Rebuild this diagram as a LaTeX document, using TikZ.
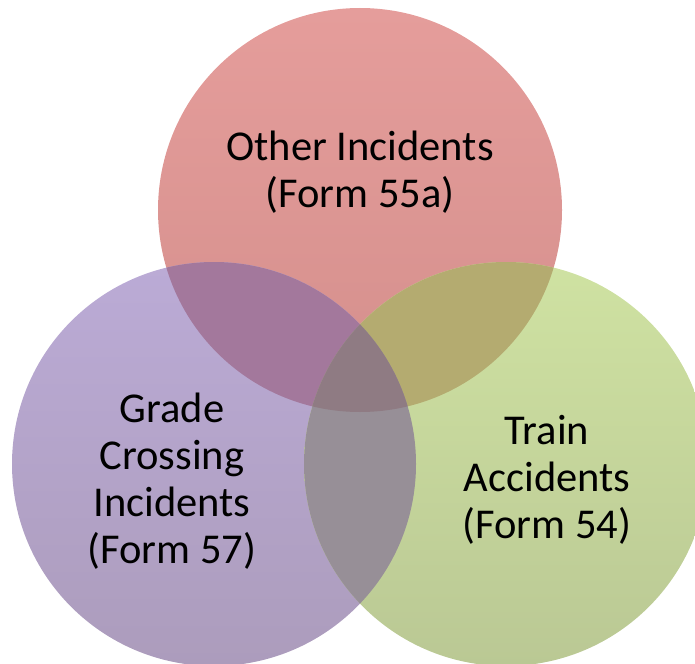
\documentclass[tikz,border=0pt]{standalone}
\usepackage{fontspec}
\setmainfont{Carlito}
\usepackage{tikz}
\usetikzlibrary{positioning}

\definecolor{redtop}{HTML}{E59D9B}
\definecolor{redbot}{HTML}{D48F8C}
\definecolor{purptop}{HTML}{BBABD6}
\definecolor{purpbot}{HTML}{AC9CBC}
\definecolor{greentop}{HTML}{CFE2A2}
\definecolor{greenbot}{HTML}{BAC894}
\definecolor{redpurp}{HTML}{A3789C}
\definecolor{redgreen}{HTML}{B4AB70}
\definecolor{purpgreen}{HTML}{978F97}
\definecolor{allthree}{HTML}{8F7B83}

\begin{document}
\begin{tikzpicture}[
x=1pt, y=-1pt,
mycircle/.style={circle,
  inner sep=0pt,
  minimum size=404pt,
},
mylabel/.style={
  align=center,
  inner sep=0pt,
  font=\fontsize{42.5}{47}\selectfont,
}
]
\clip (0,0) rectangle (695,663);

\node[mycircle, top color=redtop, bottom color=redbot] (other) at (360,210) {};
\node[mycircle, on grid, below left=254pt and 146pt of other, top color=purptop, bottom color=purpbot] (grade) {};
\node[mycircle, on grid, below right=254pt and 146pt of other, top color=greentop, bottom color=greenbot] (train) {};

\begin{scope}
\clip (other.center) circle (202);
\fill[redpurp] (grade.center) circle (202);
\fill[redgreen] (train.center) circle (202);
\end{scope}
\begin{scope}
\clip (grade.center) circle (202);
\fill[purpgreen] (train.center) circle (202);
\clip (other.center) circle (202);
\fill[allthree] (train.center) circle (202);
\end{scope}

\node[mylabel] (othertext) at ([yshift=38pt]other.center)
    {Other Incidents\\(Form 55a)};
\node[mylabel] (gradetext) at ([xshift=-42pt, yshift=-17pt]grade.center)
    {Grade\\Crossing\\Incidents\\(Form 57)};
\node[mylabel] (traintext) at ([xshift=41pt, yshift=-16pt]train.center)
    {Train\\Accidents\\(Form 54)};
\end{tikzpicture}
\end{document}
